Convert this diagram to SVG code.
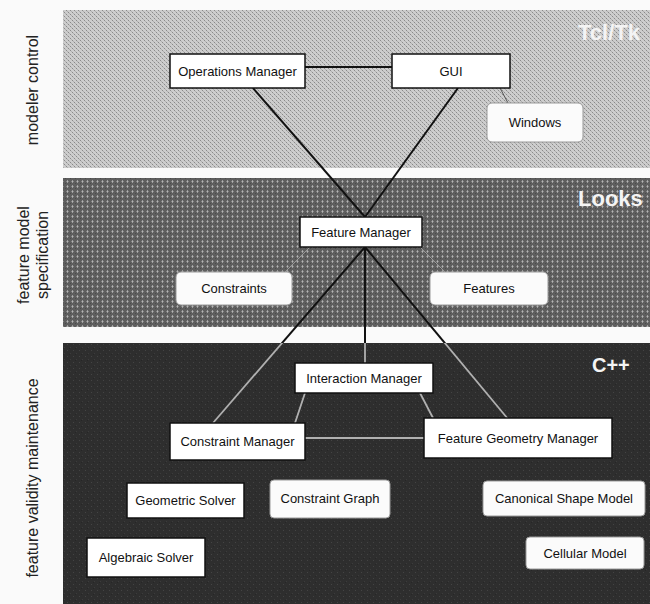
<svg xmlns="http://www.w3.org/2000/svg" width="650" height="604" viewBox="0 0 650 604">
<defs>
<pattern id="pLight" width="4" height="4" patternUnits="userSpaceOnUse">
<rect width="4" height="4" fill="#cdcdcd"/>
<rect x="0" y="0" width="1" height="1" fill="#8a8a8a"/>
<rect x="2" y="2" width="1" height="1" fill="#8a8a8a"/>
<rect x="1" y="1" width="1" height="1" fill="#b0b0b0"/>
<rect x="3" y="3" width="1" height="1" fill="#b0b0b0"/>
</pattern>
<pattern id="pMid" width="5" height="5" patternUnits="userSpaceOnUse">
<rect width="5" height="5" fill="#5e5e5e"/>
<rect x="2" y="0" width="1" height="1" fill="#9c9c9c"/>
<rect x="1" y="1" width="3" height="1" fill="#858585"/>
<rect x="2" y="1" width="1" height="1" fill="#b4b4b4"/>
<rect x="2" y="2" width="1" height="1" fill="#9c9c9c"/>
<rect x="0" y="3" width="1" height="1" fill="#4a4a4a"/>
</pattern>
<pattern id="pDark" width="6" height="6" patternUnits="userSpaceOnUse">
<rect width="6" height="6" fill="#2e2e2e"/>
<rect x="1" y="2" width="1" height="1" fill="#444"/>
<rect x="4" y="5" width="1" height="1" fill="#3c3c3c"/>
<rect x="3" y="0" width="1" height="1" fill="#262626"/>
</pattern>
<clipPath id="cUpper"><rect x="0" y="0" width="650" height="343"/></clipPath>
<clipPath id="cLower"><rect x="0" y="343" width="650" height="261"/></clipPath>
<style>
.box{fill:#fff;stroke:#111;stroke-width:1.5}
.soft{fill:#fbfbfb;stroke:#999;stroke-width:1}
.lbl{font-family:"Liberation Sans",Arial,sans-serif;font-size:13px;fill:#111;text-anchor:middle}
.side{font-family:"Liberation Sans",Arial,sans-serif;font-size:16px;fill:#222;text-anchor:middle}
.tag{font-family:"Liberation Sans",Arial,sans-serif;font-weight:bold;fill:#f4f4f4}
.ln{stroke:#111;stroke-width:2;fill:none}
.lnDark{stroke:#b0b0b0;stroke-width:1.8;fill:none}
.thin{stroke:#555;stroke-width:1;fill:none}
.thinD{stroke:#999;stroke-width:1;fill:none}
</style>
</defs>
<rect width="650" height="604" fill="#fafafa"/>
<g id="bands">
<rect x="63" y="10" width="587" height="158" fill="url(#pLight)"/>
<rect x="63" y="178" width="587" height="149" fill="url(#pMid)"/>
<rect x="63" y="343" width="587" height="261" fill="url(#pDark)"/>
<text class="tag" x="578" y="40" font-size="22">Tcl/Tk</text>
<text class="tag" x="578" y="206" font-size="22">Looks</text>
<text class="tag" x="592" y="372" font-size="20">C++</text>
</g>
<g id="side-labels">
<text class="side" transform="translate(38,90) rotate(-90)">modeler control</text>
<text class="side" transform="translate(29,255) rotate(-90)">feature model</text>
<text class="side" transform="translate(48,255) rotate(-90)">specification</text>
<text class="side" transform="translate(38,478) rotate(-90)">feature validity maintenance</text>
</g>
<g id="connectors">
<line class="ln" x1="305" y1="67" x2="392" y2="67"/>
<line class="ln" x1="253" y1="88" x2="365" y2="217"/>
<line class="ln" x1="458" y1="88" x2="365" y2="217"/>
<line class="thin" x1="500" y1="88" x2="508" y2="103"/>
<line class="thinD" x1="310" y1="247" x2="285" y2="272"/>
<line class="thinD" x1="420" y1="247" x2="445" y2="272"/>
<g clip-path="url(#cUpper)">
<line class="ln" x1="365" y1="247" x2="213" y2="423"/>
<line class="ln" x1="365" y1="247" x2="365" y2="363"/>
<line class="ln" x1="365" y1="247" x2="508" y2="419"/>
</g>
<g clip-path="url(#cLower)">
<line class="lnDark" x1="365" y1="247" x2="213" y2="423"/>
<line class="lnDark" x1="365" y1="247" x2="365" y2="363"/>
<line class="lnDark" x1="365" y1="247" x2="508" y2="419"/>
</g>
<line class="lnDark" x1="305" y1="393" x2="295" y2="423"/>
<line class="lnDark" x1="420" y1="393" x2="433" y2="418"/>
<line class="lnDark" x1="305" y1="438" x2="424" y2="438"/>
</g>
<g id="operations-manager"><rect class="box" x="170" y="54" width="135" height="34"/><text class="lbl" x="237.5" y="76">Operations Manager</text></g>
<g id="gui"><rect class="box" x="392" y="54" width="118" height="34"/><text class="lbl" x="451" y="76">GUI</text></g>
<g id="windows"><rect class="soft" x="487" y="103" width="96" height="39" rx="5"/><text class="lbl" x="535" y="127">Windows</text></g>
<g id="feature-manager"><rect class="box" x="300" y="217" width="122" height="30"/><text class="lbl" x="361" y="237">Feature Manager</text></g>
<g id="constraints"><rect class="soft" x="176" y="272" width="116" height="33" rx="5"/><text class="lbl" x="234" y="293">Constraints</text></g>
<g id="features"><rect class="soft" x="430" y="272" width="118" height="33" rx="5"/><text class="lbl" x="489" y="293">Features</text></g>
<g id="interaction-manager"><rect class="box" x="295" y="363" width="138" height="30"/><text class="lbl" x="364" y="383">Interaction Manager</text></g>
<g id="constraint-manager"><rect class="box" x="170" y="423" width="135" height="37"/><text class="lbl" x="237.5" y="446">Constraint Manager</text></g>
<g id="feature-geometry-manager"><rect class="box" x="424" y="418" width="188" height="40"/><text class="lbl" x="518" y="443">Feature Geometry Manager</text></g>
<g id="geometric-solver"><rect class="box" x="127" y="483" width="117" height="35"/><text class="lbl" x="185.5" y="505">Geometric Solver</text></g>
<g id="constraint-graph"><rect class="soft" x="270" y="480" width="120" height="38" rx="4"/><text class="lbl" x="330" y="503">Constraint Graph</text></g>
<g id="canonical-shape-model"><rect class="soft" x="483" y="481" width="162" height="35" rx="4"/><text class="lbl" x="564" y="503">Canonical Shape Model</text></g>
<g id="algebraic-solver"><rect class="box" x="87" y="538" width="118" height="39"/><text class="lbl" x="146" y="562">Algebraic Solver</text></g>
<g id="cellular-model"><rect class="soft" x="526" y="537" width="118" height="32" rx="4"/><text class="lbl" x="585" y="558">Cellular Model</text></g>
</svg>
